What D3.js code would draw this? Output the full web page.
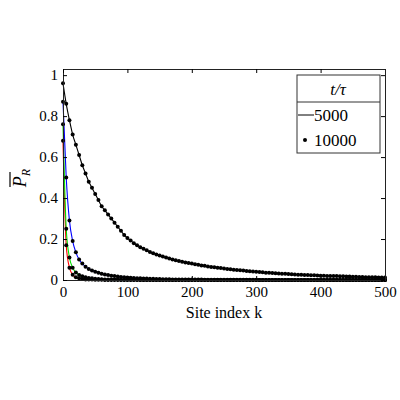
<!DOCTYPE html>
<html><head><meta charset="utf-8">
<script src="https://cdn.jsdelivr.net/npm/d3@7"></script>
<style>body{margin:0;background:#fff}text{font-family:"Liberation Serif","DejaVu Serif",serif}</style>
</head><body><svg id="c" width="400" height="400"></svg>
<script>
// site index k, sampled every 5 sites
const sites = d3.range(0, 501, 5);
const black = [.96,.86,.78,.71,.66,.61,.56,.52,.48,.45,.42,.39,.36,.34,.32,.30,.28,.26,.24,.22,.205,
 .193,.18,.17,.16,.152,.145,.137,.13,.125,.12,.115,.11,.105,.10,.096,.093,.089,.086,.083,.08,
 .077,.074,.071,.069,.066,.064,.062,.06,.058,.056,.054,.052,.05,.049,.047,.046,.044,.043,.041,.04,
 .039,.038,.036,.035,.034,.033,.032,.031,.030,.029,.028,.027,.026,.026,.025,.024,.023,.023,.022,.021,
 .021,.02,.02,.019,.019,.018,.018,.017,.017,.016,.016,.015,.015,.014,.014,.013,.013,.012,.012,.012];
const blue = [.87,.5,.29,.19,.135,.1,.08,.065,.054,.046,.04,.035,.031,.027,.024,.021,.019,.017,.015,.014,.012,
 .011,.01,.009,.008,.007,.007,.006,.006,.005,.005,.004,.004,.004,.003,.003,.003,.003,.002,.002,.002,
 .002,.002,.002,.001,.001,.001,.001,.001,.001,.001,.001,.001,.001,.001,.001,.001,.001,.001,.001,.001,
 0,0,0,0,0,0,0,0,0,0,0,0,0,0,0,0,0,0,0,0,0,0,0,0,0,0,0,0,0,0,0,0,0,0,0,0,0,0,0,0];
const green = [.76,.25,.11,.06,.037,.025,.018,.013,.01,.008,.006,.005,.004,.003,.003,.002,.002,.002,.001,.001,.001,
 .001,.001,.001,0,0,0,0,0,0,0,0,0,0,0,0,0,0,0,0,0,0,0,0,0,0,0,0,0,0,0,0,0,0,0,0,0,0,0,0,0,
 0,0,0,0,0,0,0,0,0,0,0,0,0,0,0,0,0,0,0,0,0,0,0,0,0,0,0,0,0,0,0,0,0,0,0,0,0,0,0,0];
const red = [.68,.17,.06,.026,.013,.008,.005,.003,.002,.002,.001,.001,.001,0,0,0,0,0,0,0,0,
 0,0,0,0,0,0,0,0,0,0,0,0,0,0,0,0,0,0,0,0,0,0,0,0,0,0,0,0,0,0,0,0,0,0,0,0,0,0,0,0,
 0,0,0,0,0,0,0,0,0,0,0,0,0,0,0,0,0,0,0,0,0,0,0,0,0,0,0,0,0,0,0,0,0,0,0,0,0,0,0,0];
const series = [{c:"red",v:red},{c:"#00e000",v:green},{c:"blue",v:blue},{c:"black",v:black}];
const xTicks = [0,100,200,300,400,500];
const yTicks = [0,0.2,0.4,0.6,0.8,1];

const svg = d3.select("#c");
const x = d3.scaleLinear().domain([0,500]).range([63,385]);
const y = d3.scaleLinear().domain([0,1.03]).range([280,69]);

const line = d3.line().x((d,i)=>x(sites[i])).y(d=>y(d)).curve(d3.curveMonotoneX);
series.forEach(s=>{
  svg.append("path").attr("d",line(s.v)).attr("fill","none").attr("stroke",s.c).attr("stroke-width",1.1);
});
series.forEach(s=>{
  svg.append("g").selectAll("circle").data(s.v).join("circle")
    .attr("cx",(d,i)=>x(sites[i])).attr("cy",d=>y(d)).attr("r",2).attr("fill","black");
});

const fmt = d=>d===0?"0":d===1?"1":String(d);
svg.append("g").attr("transform","translate(0,280)")
  .call(d3.axisBottom(x).tickValues(xTicks).tickSize(-4).tickPadding(6))
  .call(g=>g.selectAll("text").attr("font-size",15));
svg.append("g").attr("transform","translate(63,0)")
  .call(d3.axisLeft(y).tickValues(yTicks).tickFormat(fmt).tickSize(-4).tickPadding(5))
  .call(g=>g.selectAll("text").attr("font-size",15));
svg.append("g").attr("transform","translate(0,69)")
  .call(d3.axisTop(x).tickValues(xTicks).tickSize(-4).tickFormat(""));
svg.append("g").attr("transform","translate(385,0)")
  .call(d3.axisRight(y).tickValues(yTicks).tickSize(-4).tickFormat(""));
svg.selectAll(".domain").attr("stroke","#222");

svg.append("text").attr("x",224).attr("y",318).attr("text-anchor","middle").attr("font-size",16).text("Site index k");
const yl = svg.append("text").attr("transform","translate(26,178) rotate(-90)").attr("text-anchor","middle")
  .attr("font-size",18).attr("font-style","italic");
yl.append("tspan").text("P");
yl.append("tspan").attr("font-size",12).attr("dy",4).text("R");
svg.append("line").attr("x1",10).attr("x2",10).attr("y1",172).attr("y2",187).attr("stroke","black").attr("stroke-width",1.2);

// legend
const L = svg.append("g");
L.append("rect").attr("x",297).attr("y",75).attr("width",83).attr("height",78).attr("fill","white").attr("stroke","#333");
L.append("line").attr("x1",297).attr("x2",380).attr("y1",102).attr("y2",102).attr("stroke","#333");
L.append("text").attr("x",338).attr("y",95).attr("text-anchor","middle").attr("font-size",17).attr("font-style","italic").text("t/τ");
L.append("line").attr("x1",298).attr("x2",314).attr("y1",115).attr("y2",115).attr("stroke","black");
L.append("text").attr("x",314).attr("y",121).attr("font-size",17).text("5000");
L.append("circle").attr("cx",305).attr("cy",140).attr("r",2).attr("fill","black");
L.append("text").attr("x",314).attr("y",146).attr("font-size",17).text("10000");
</script></body></html>
